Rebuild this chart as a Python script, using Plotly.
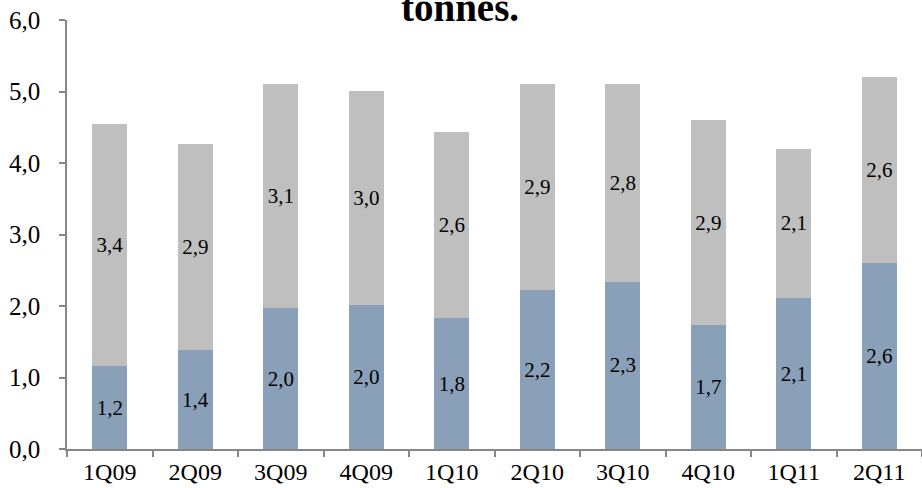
import plotly.graph_objects as go

quarters = ["1Q09", "2Q09", "3Q09", "4Q09", "1Q10", "2Q10", "3Q10", "4Q10", "1Q11", "2Q11"]
lower_values = [1.16, 1.38, 1.97, 2.01, 1.83, 2.22, 2.34, 1.73, 2.11, 2.60]
upper_values = [3.38, 2.89, 3.13, 3.00, 2.60, 2.88, 2.76, 2.87, 2.09, 2.60]
y_ticks = [0, 1, 2, 3, 4, 5, 6]

SERIF = "Liberation Serif"
AXIS_GREY = "#868686"


def fmt(v):
    return f"{v:.1f}".replace(".", ",")


fig = go.Figure()
fig.add_trace(go.Bar(
    x=quarters, y=lower_values,
    marker=dict(color="#8A9FB8", line=dict(width=0)),
    text=[fmt(v) for v in lower_values],
    textposition="inside", insidetextanchor="middle",
    textfont=dict(family=SERIF, size=21, color="#000000"),
    constraintext="none",
    hoverinfo="skip",
))
fig.add_trace(go.Bar(
    x=quarters, y=upper_values,
    marker=dict(color="#BFBFBF", line=dict(width=0)),
    text=[fmt(v) for v in upper_values],
    textposition="inside", insidetextanchor="middle",
    textfont=dict(family=SERIF, size=21, color="#000000"),
    constraintext="none",
    hoverinfo="skip",
))

fig.update_layout(
    width=922, height=488,
    barmode="stack",
    bargap=0.59,
    showlegend=False,
    separators=",.",
    paper_bgcolor="white",
    plot_bgcolor="white",
    margin=dict(l=67, r=0, t=20, b=39),
    font=dict(family=SERIF, size=24, color="#000000"),
    xaxis=dict(
        type="category",
        automargin=False,
        showline=True, linecolor=AXIS_GREY, linewidth=1.5,
        ticks="outside", ticklen=6, tickcolor=AXIS_GREY, tickwidth=1.5,
        tickson="boundaries",
        showgrid=False,
        ticklabelstandoff=0,
        tickfont=dict(family=SERIF, size=24, color="#000000"),
    ),
    yaxis=dict(
        range=[0, 6],
        automargin=False,
        tickvals=y_ticks,
        tickformat=".1f",
        showline=True, linecolor=AXIS_GREY, linewidth=1.5,
        ticks="outside", ticklen=6, tickcolor=AXIS_GREY, tickwidth=1.5,
        showgrid=False, zeroline=False,
        ticklabelstandoff=14,
        tickfont=dict(family=SERIF, size=25, color="#000000"),
    ),
    annotations=[dict(
        text="<b>tonnes.</b>",
        xref="paper", yref="paper",
        x=0.46, y=1.03,
        xanchor="center", yanchor="middle",
        showarrow=False,
        font=dict(family=SERIF, size=39, color="#000000"),
    )],
)

fig.write_html("out.html")
